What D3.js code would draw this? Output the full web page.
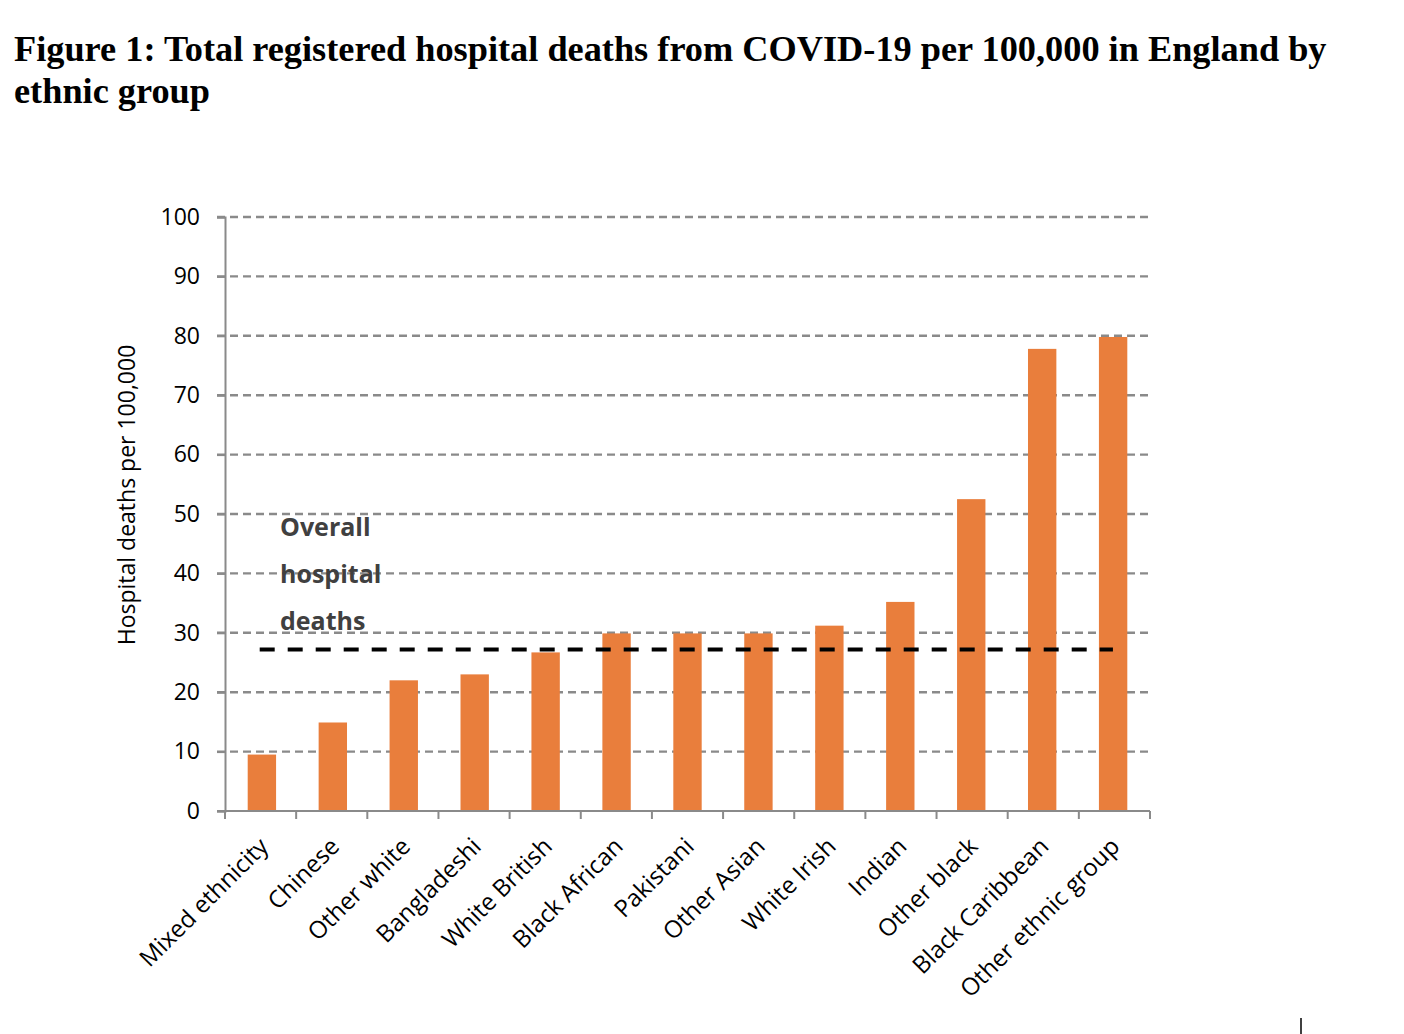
<!DOCTYPE html>
<html>
<head>
<meta charset="utf-8">
<script src="https://cdn.jsdelivr.net/npm/d3@7"></script>
<style>
   body { margin: 0; background: #fff; }
   .title { font-family: "Liberation Serif", "Times New Roman", serif; font-weight: bold; font-size: 36.3px; fill: #000; }
   .tick text { font-family: "Open Sans", "Noto Sans", sans-serif; font-size: 23px; fill: #000; }
   .ylabel { font-family: "Open Sans", "Noto Sans", sans-serif; font-size: 23px; fill: #000; }
   .note { font-family: "Open Sans", "Noto Sans", sans-serif; font-weight: bold; font-size: 25px; fill: #404040; }
</style>
</head>
<body>
<div id="chart"></div>
<script>
"use strict";

const groups = [
   "Mixed ethnicity", "Chinese", "Other white", "Bangladeshi", "White British",
   "Black African", "Pakistani", "Other Asian", "White Irish", "Indian",
   "Other black", "Black Caribbean", "Other ethnic group"
];
const deaths = [9.5, 14.9, 22.0, 23.0, 26.7, 29.9, 29.9, 29.9, 31.2, 35.2, 52.5, 77.8, 79.8];
const overall = 27.2;
const yTicks = [0, 10, 20, 30, 40, 50, 60, 70, 80, 90, 100];
const titleLines = [
   "Figure 1: Total registered hospital deaths from COVID-19 per 100,000 in England by",
   "ethnic group"
];
const noteLines = ["Overall", "hospital", "deaths"];

(function () {
   const width = 1404;
   const height = 1034;
   const plot = { left: 225, right: 1150, top: 217, bottom: 811 };
   const barColour = "#E97E3C";
   const axisColour = "#8a8a8a";

   const svg = d3.select("#chart").append("svg")
      .attr("width", width)
      .attr("height", height);

   svg.selectAll("text.title")
      .data(titleLines)
      .enter()
      .append("text")
      .attr("class", "title")
      .attr("x", 14)
      .attr("y", (d, i) => 61 + i * 42)
      .text(d => d);

   const x = d3.scaleBand()
      .domain(groups)
      .range([plot.left, plot.right])
      .paddingInner(0.6)
      .paddingOuter(0.32);

   const y = d3.scaleLinear()
      .domain([0, 100])
      .range([plot.bottom, plot.top]);

   // dashed gridlines (also act as the y ticks)
   svg.append("g")
      .selectAll("line")
      .data(yTicks.slice(1))
      .enter()
      .append("line")
      .attr("x1", plot.left - 8)
      .attr("x2", plot.right)
      .attr("y1", d => y(d))
      .attr("y2", d => y(d))
      .attr("stroke", axisColour)
      .attr("stroke-width", 2.4)
      .attr("stroke-dasharray", "8,5");

   const yAxis = svg.append("g")
      .attr("transform", `translate(${plot.left},0)`)
      .call(d3.axisLeft(y).tickValues(yTicks).tickSize(8).tickPadding(17));
   yAxis.select(".domain").attr("stroke", axisColour).attr("stroke-width", 2);
   yAxis.selectAll(".tick line").attr("stroke", axisColour).attr("stroke-width", 2);

   // bars
   svg.append("g")
      .selectAll("rect")
      .data(deaths)
      .enter()
      .append("rect")
      .attr("x", (d, i) => x(groups[i]))
      .attr("width", x.bandwidth())
      .attr("y", d => y(d))
      .attr("height", d => y(0) - y(d))
      .attr("fill", barColour);

   // x axis with ticks between categories
   const boundaries = d3.range(groups.length + 1).map(i => plot.left + i * (plot.right - plot.left) / groups.length);
   const xg = svg.append("g");
   xg.append("line")
      .attr("x1", plot.left - 8)
      .attr("x2", plot.right)
      .attr("y1", plot.bottom)
      .attr("y2", plot.bottom)
      .attr("stroke", axisColour)
      .attr("stroke-width", 2);
   xg.selectAll("line.tk")
      .data(boundaries)
      .enter()
      .append("line")
      .attr("class", "tk")
      .attr("x1", d => d)
      .attr("x2", d => d)
      .attr("y1", plot.bottom)
      .attr("y2", plot.bottom + 8)
      .attr("stroke", axisColour)
      .attr("stroke-width", 2);

   xg.selectAll("text")
      .data(groups)
      .enter()
      .append("text")
      .attr("transform", d => `translate(${x(d) + x.bandwidth() / 2 + 2},${plot.bottom + 31}) rotate(-45)`)
      .attr("text-anchor", "end")
      .attr("dy", "0.35em")
      .style("font-family", "'Open Sans', 'Noto Sans', sans-serif")
      .style("font-size", "24px")
      .text(d => d);

   // y axis label
   svg.append("text")
      .attr("class", "ylabel")
      .attr("transform", `translate(135,${(plot.top + plot.bottom) / 2 - 19}) rotate(-90)`)
      .attr("text-anchor", "middle")
      .text("Hospital deaths per 100,000");

   // overall average line
   svg.append("line")
      .attr("x1", x(groups[0]) + 12)
      .attr("x2", x(groups[groups.length - 1]) + 14)
      .attr("y1", y(overall))
      .attr("y2", y(overall))
      .attr("stroke", "#000")
      .attr("stroke-width", 4)
      .attr("stroke-dasharray", "15,13");

   svg.selectAll("text.note")
      .data(noteLines)
      .enter()
      .append("text")
      .attr("class", "note")
      .attr("x", 280)
      .attr("y", (d, i) => 536 + i * 47)
      .text(d => d);

   // stray mark at page bottom
   svg.append("line")
      .attr("x1", 1301).attr("x2", 1301)
      .attr("y1", 1018).attr("y2", 1034)
      .attr("stroke", "#000")
      .attr("stroke-width", 1.5);
})();
</script>
</body>
</html>
